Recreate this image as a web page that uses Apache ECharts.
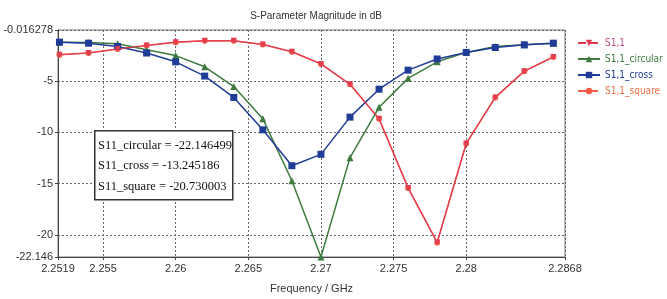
<!DOCTYPE html>
<html>
<head>
<meta charset="utf-8">
<script src="https://cdn.jsdelivr.net/npm/echarts@6/dist/echarts.min.js"></script>
<style>
  html, body { margin: 0; padding: 0; background: #fff; }
  #main { width: 667px; height: 299px; }
</style>
</head>
<body>
<div id="main"></div>
<script>
// frequencies (GHz)
var freq = [2.252, 2.254, 2.256, 2.258, 2.26, 2.262, 2.264, 2.266, 2.268,
            2.27, 2.272, 2.274, 2.276, 2.278, 2.28, 2.282, 2.284, 2.286];

// S11 in dB
var s11Circular = [-1.20, -1.24, -1.36, -1.94, -2.51, -3.60, -5.53, -8.68, -14.71,
                   -22.146499, -12.46, -7.55, -4.73, -3.12, -2.20, -1.62, -1.46, -1.30];
var s11Cross = [-1.20, -1.30, -1.62, -2.26, -3.12, -4.51, -6.59, -9.75, -13.245186,
                -12.14, -8.51, -5.79, -3.93, -2.84, -2.20, -1.72, -1.46, -1.30];
var s11Square = [-2.42, -2.26, -1.87, -1.53, -1.20, -1.07, -1.07, -1.43, -2.14,
                 -3.32, -5.31, -8.68, -15.41, -20.730003, -11.08, -6.59, -4.03, -2.64];
// S1,1 lies on top of the square curve
var s11 = s11Square;

var xTicks = [2.2519, 2.255, 2.26, 2.265, 2.27, 2.275, 2.28, 2.2868];
var yTicks = [-22.146, -20, -15, -10, -5, -0.016278];

var noteLines = [
  'S11_circular = -22.146499',
  'S11_cross = -13.245186',
  'S11_square = -20.730003'
];

function pairs(ys) {
  return ys.map(function (v, i) { return [freq[i], v]; });
}

var myChart = echarts.init(document.getElementById('main'));

var axisFont = { fontFamily: 'Liberation Sans', fontSize: 11, color: '#333' };

var option = {
  animation: false,
  backgroundColor: '#fff',
  title: {
    text: 'S-Parameter Magnitude in dB',
    left: 311,
    textAlign: 'center',
    top: 6,
    textStyle: { fontFamily: 'Liberation Sans', fontSize: 10, fontWeight: 'normal', color: '#333' }
  },
  grid: {
    left: 58, right: 102, top: 30, bottom: 39,
    show: true, borderColor: '#777', borderWidth: 1
  },
  legend: {
    orient: 'vertical',
    left: 572,
    top: 33,
    itemGap: 6,
    itemWidth: 22,
    itemHeight: 8,
    textStyle: { fontFamily: 'DejaVu Sans Condensed', fontSize: 10 },
    data: [
      { name: 'S1,1', textStyle: { color: '#c04a8a' }, lineStyle: { type: 'dashed' } },
      { name: 'S1,1_circular', textStyle: { color: '#3d7a3d' } },
      { name: 'S1,1_cross', textStyle: { color: '#1f3c96' } },
      { name: 'S1,1_square', textStyle: { color: '#e8704a' }, lineStyle: { type: 'dashed' } }
    ]
  },
  xAxis: {
    type: 'value',
    min: 2.2519,
    max: 2.2868,
    name: 'Frequency / GHz',
    nameLocation: 'middle',
    nameGap: 26,
    nameTextStyle: { fontFamily: 'Liberation Sans', fontSize: 11, color: '#333' },
    axisLine: { lineStyle: { color: '#444' } },
    axisTick: { customValues: xTicks, length: 3, lineStyle: { color: '#444' } },
    axisLabel: Object.assign({ customValues: xTicks, margin: 6,
      formatter: function (v) { return String(v); } }, axisFont),
    splitLine: { show: true, lineStyle: { color: '#666', type: [2, 2], width: 1 } }
  },
  yAxis: {
    type: 'value',
    min: -22.146,
    max: -0.016278,
    axisLine: { show: true, lineStyle: { color: '#444' } },
    axisTick: { show: true, customValues: yTicks, length: 3, lineStyle: { color: '#444' } },
    axisLabel: Object.assign({ customValues: yTicks, margin: 5,
      formatter: function (v) { return String(v); } }, axisFont),
    splitLine: { show: true, lineStyle: { color: '#666', type: [2, 2], width: 1 } }
  },
  series: [
    {
      name: 'S1,1_square',
      type: 'line',
      data: pairs(s11Square),
      symbol: 'circle',
      symbolSize: 6,
      color: '#ef5a45',
      lineStyle: { width: 1.5 },
      z: 2
    },
    {
      name: 'S1,1_circular',
      type: 'line',
      data: pairs(s11Circular),
      symbol: 'triangle',
      symbolSize: 7,
      color: '#3d7a3d',
      lineStyle: { width: 1.5 },
      z: 3
    },
    {
      name: 'S1,1_cross',
      type: 'line',
      data: pairs(s11Cross),
      symbol: 'rect',
      symbolSize: 7,
      color: '#1f3c96',
      lineStyle: { width: 1.5 },
      z: 4
    },
    {
      name: 'S1,1',
      type: 'line',
      data: pairs(s11),
      symbol: 'triangle',
      symbolRotate: 180,
      symbolSize: 6,
      color: '#e23c52',
      lineStyle: { width: 1.2 },
      z: 5
    }
  ],
  graphic: [
    {
      type: 'rect',
      left: 94, top: 130,
      shape: { width: 138, height: 69 },
      style: { fill: '#fff', stroke: '#333', lineWidth: 1.5 },
      z: 50
    },
    {
      type: 'text',
      left: 98, top: 135,
      style: {
        text: noteLines.join('\n'),
        fontFamily: 'Liberation Serif',
        fontSize: 12.5,
        lineHeight: 20.5,
        fill: '#111'
      },
      z: 51
    }
  ]
};

myChart.setOption(option);
</script>
</body>
</html>
